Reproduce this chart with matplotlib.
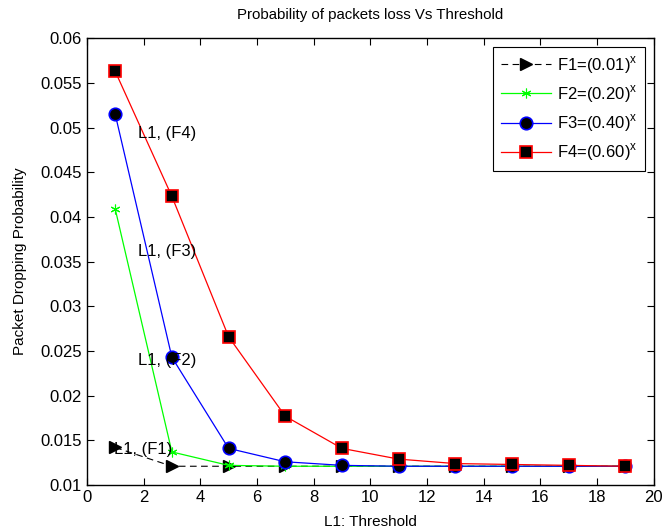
import numpy as np
import matplotlib
matplotlib.use("Agg")
import matplotlib.pyplot as plt
from matplotlib.ticker import FuncFormatter

# threshold values on the x axis
threshold = [1, 3, 5, 7, 9, 11, 13, 15, 17, 19]

# dropping probability for each arrival function
f1_vals = [0.0142, 0.0121, 0.0121, 0.0121, 0.0121, 0.0121, 0.0121, 0.0121, 0.0121, 0.0121]
f2_vals = [0.0409, 0.0137, 0.0122, 0.0121, 0.0121, 0.0121, 0.0121, 0.0121, 0.0121, 0.0121]
f3_vals = [0.0515, 0.0243, 0.0141, 0.0126, 0.0122, 0.0121, 0.0121, 0.0121, 0.0121, 0.0121]
f4_vals = [0.0563, 0.0423, 0.0266, 0.0177, 0.0141, 0.0129, 0.0124, 0.0123, 0.0122, 0.0121]

labels = [r'F1=(0.01)$^{\mathrm{x}}$', r'F2=(0.20)$^{\mathrm{x}}$',
          r'F3=(0.40)$^{\mathrm{x}}$', r'F4=(0.60)$^{\mathrm{x}}$']

# annotation text and where it sits
annot_text = ['L1, (F1)', 'L1, (F2)', 'L1, (F3)', 'L1, (F4)']
annot_x = [0.95, 1.8, 1.8, 1.8]
annot_y = [0.0140, 0.0239, 0.0361, 0.0493]

plt.rcParams['font.family'] = ['Liberation Sans', 'DejaVu Sans']
plt.rcParams['mathtext.fontset'] = 'custom'
plt.rcParams['mathtext.rm'] = 'Liberation Sans'

fig = plt.figure(figsize=(6.63, 5.31), dpi=100)
ax = fig.add_axes([0.131, 0.0866, 0.855, 0.8414])

ax.plot(threshold, f1_vals, color='k', linestyle='--', dashes=(6, 4),
        linewidth=0.8, marker='>', markersize=9, markerfacecolor='k',
        markeredgecolor='k', label=labels[0])
ax.plot(threshold, f2_vals, color='#00ff00', linestyle='-', linewidth=0.9,
        marker=(6, 2, 0), markersize=7, markerfacecolor='#00ff00',
        markeredgecolor='#00ff00', markeredgewidth=0.8, label=labels[1])
ax.plot(threshold, f3_vals, color='#0000ff', linestyle='-', linewidth=0.9,
        marker='o', markersize=9, markerfacecolor='k',
        markeredgecolor='#0000ff', markeredgewidth=1.2, label=labels[2])
ax.plot(threshold, f4_vals, color='#ff0000', linestyle='-', linewidth=0.9,
        marker='s', markersize=8.5, markerfacecolor='k',
        markeredgecolor='#ff0000', markeredgewidth=1.2, label=labels[3])

for t, x, y in zip(annot_text, annot_x, annot_y):
    ax.text(x, y, t, fontsize=12, ha='left', va='center')

ax.set_xlim(0, 20)
ax.set_ylim(0.01, 0.06)
ax.set_xticks(np.arange(0, 21, 2))
ax.set_yticks(np.arange(0.01, 0.0601, 0.005))
ax.yaxis.set_major_formatter(FuncFormatter(lambda v, p: '%g' % round(v, 4)))
ax.tick_params(direction='in', top=True, right=True, labelsize=12,
               length=5, width=0.8)
for s in ax.spines.values():
    s.set_linewidth(1.0)

ax.set_title('Probability of packets loss Vs Threshold', fontsize=10.8, pad=14)
ax.set_xlabel('L1: Threshold', fontsize=11, labelpad=7.5)
ax.set_ylabel('Packet Dropping Probability', fontsize=11)
ax.yaxis.set_label_coords(-0.106, 0.5)

leg = ax.legend(loc='upper right', fontsize=12, fancybox=False,
                edgecolor='k', framealpha=1, borderaxespad=0.5,
                handlelength=3.0, labelspacing=0.45, borderpad=0.45,
                handletextpad=0.4)
leg.get_frame().set_linewidth(0.8)

fig.savefig('out.png', dpi=100)
